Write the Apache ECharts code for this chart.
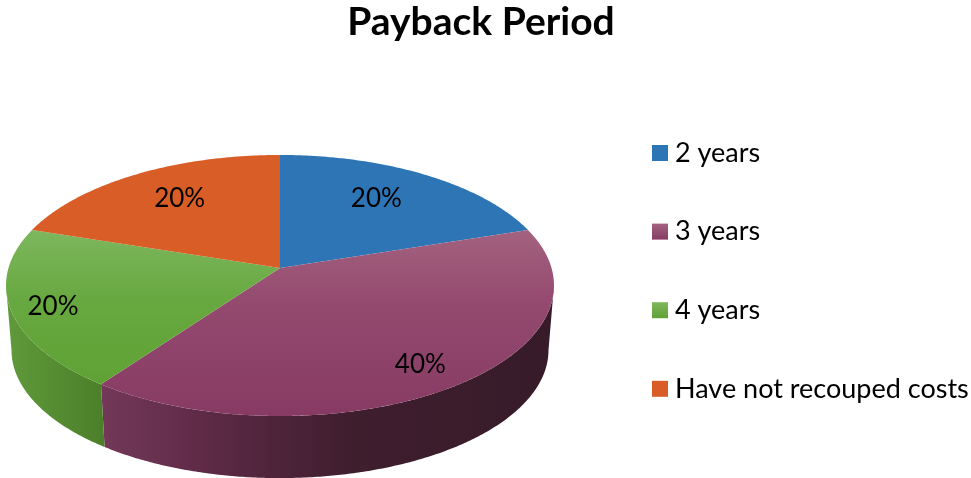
<!DOCTYPE html>
<html><head><meta charset="utf-8">
<style>html,body{margin:0;padding:0;background:#fff}#c{width:971px;height:478px}</style>
<script src="https://cdn.jsdelivr.net/npm/echarts@6/dist/echarts.min.js"></script>
</head><body><div id="c"></div>
<script>
var titleText = 'Payback Period';
var categories = ['2 years', '3 years', '4 years', 'Have not recouped costs'];
var values = [20, 40, 20, 20];

var FONT = 'Lato, "Noto Sans", sans-serif';
var total = values.reduce(function (a, b) { return a + b; }, 0);

// label placement on the disc: radial fraction and angular nudge from the slice middle
var labelRadius = [0.703, 0.827, 0.853, 0.711];
var labelNudge = [-3, 1.4, -1.5, 1.9];

// perspective projection of the pie disc
var CX = 280, TOP_Y = 268, BOT_Y = 333, A = 271.5, B = 128.2, K = 0.134, BOT_S = 0.98;
// angles at which the projected disc is widest: the wall is visible only between them
var WALL_FROM = Math.acos(-K) * 180 / Math.PI, WALL_TO = 360 - WALL_FROM;
function project(deg, r, y0, s) {
  var t = deg * Math.PI / 180, u = Math.sin(t) * r, v = Math.cos(t) * r, w = 1 + K * v;
  return [CX + s * A * u / w, y0 - s * B * v / w];
}
function arc(a, b, y0, s) {
  var pts = [], n = Math.max(2, Math.ceil(Math.abs(b - a) * 2));
  for (var i = 0; i <= n; i++) pts.push(project(a + (b - a) * i / n, 1, y0, s));
  return pts;
}
function grad(x, y, x2, y2, stops) {
  return { type: 'linear', x: x, y: y, x2: x2, y2: y2, global: true,
    colorStops: stops.map(function (p) { return { offset: p[0], color: p[1] }; }) };
}
var topFill = [
  '#2e75b6',
  grad(0, 230, 0, 416, [[0, '#a3627f'], [0.4, '#94496f'], [1, '#873b64']]),
  grad(0, 230, 0, 385, [[0, '#7db75e'], [0.45, '#68a840'], [1, '#5fa234']]),
  '#d95d26'
];
var wallFill = [
  '#1f4f7c',
  grad(101, 0, 552, 0, [[0, '#743859'], [0.25, '#5c2945'], [0.55, '#3f1e2e'], [1, '#371b29']]),
  grad(6, 0, 104, 0, [[0, '#609a3b'], [1, '#4b7f29']]),
  '#93401a'
];
var legendFill = [
  '#2e75b6',
  { type: 'linear', x: 0, y: 0, x2: 0, y2: 1, colorStops: [{ offset: 0, color: '#a3627f' }, { offset: 1, color: '#873b64' }] },
  { type: 'linear', x: 0, y: 0, x2: 0, y2: 1, colorStops: [{ offset: 0, color: '#7db75e' }, { offset: 1, color: '#5fa234' }] },
  '#d95d26'
];

function makeRender(idx) {
  return function (params, api) {
    var before = 0;
    for (var i = 0; i < idx; i++) before += values[i];
    var val = api.value(0);
    var a = before / total * 360, b = (before + val) / total * 360;
    var children = [];
    var wa = Math.max(a, WALL_FROM), wb = Math.min(b, WALL_TO);
    if (wb > wa) {
      children.push({ type: 'polygon', z2: 1,
        shape: { points: arc(wa, wb, TOP_Y, 1).concat(arc(wa, wb, BOT_Y, BOT_S).reverse()) },
        style: { fill: wallFill[idx] } });
    }
    children.push({ type: 'polygon', z2: 10,
      shape: { points: [[CX, TOP_Y]].concat(arc(a, b, TOP_Y, 1)) },
      style: { fill: topFill[idx] } });
    var lp = project((a + b) / 2 + labelNudge[idx], labelRadius[idx], TOP_Y + 1, 1);
    children.push({ type: 'text', z2: 20, x: lp[0], y: lp[1], style: {
      text: Math.round(val / total * 100) + '%', fill: '#000', font: '26px ' + FONT,
      textAlign: 'center', textVerticalAlign: 'middle' } });
    return { type: 'group', children: children };
  };
}

var chart = echarts.init(document.getElementById('c'), null, { renderer: 'canvas' });
chart.setOption({
  animation: false,
  backgroundColor: '#fff',
  title: { text: titleText, left: 476, top: -2, textAlign: 'center',
    textStyle: { fontFamily: FONT, fontSize: 39, fontWeight: 'bold', color: '#000' } },
  legend: {
    orient: 'vertical', left: 652, top: 138, icon: 'rect', itemWidth: 16, itemHeight: 16,
    itemGap: 48.6, padding: 0, selectedMode: false, data: categories,
    textStyle: { fontFamily: FONT, fontSize: 27, color: '#000', lineHeight: 30, padding: [0, 0, 0, 2] }
  },
  series: categories.map(function (name, i) {
    return {
      type: 'custom', name: name, coordinateSystem: 'none', silent: true,
      itemStyle: { color: legendFill[i] },
      renderItem: makeRender(i), data: [[values[i]]]
    };
  })
});
</script></body></html>
